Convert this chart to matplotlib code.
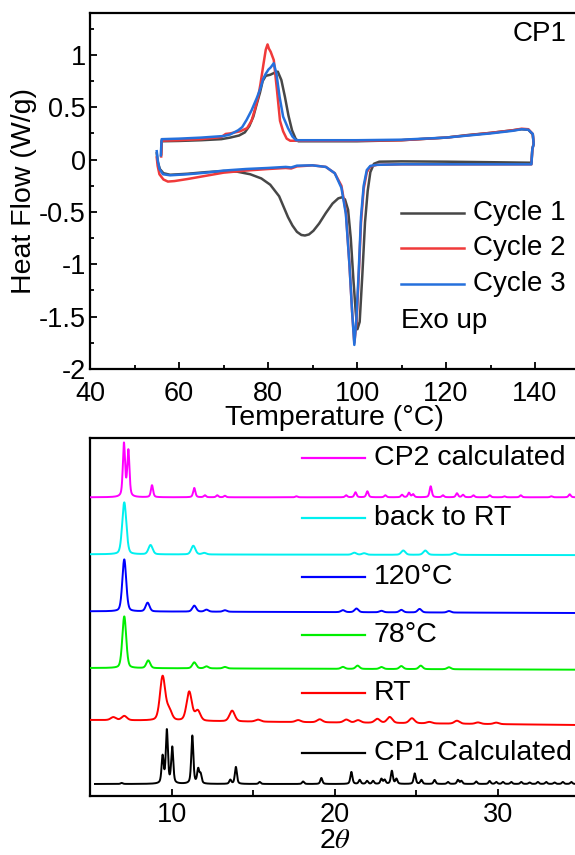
import numpy as np
import matplotlib
matplotlib.use('Agg')
import matplotlib.pyplot as plt
from matplotlib.ticker import MultipleLocator, FuncFormatter

plt.rcParams['font.family'] = ['Liberation Sans', 'DejaVu Sans']
plt.rcParams['mathtext.fontset'] = 'stix'
plt.rcParams['axes.unicode_minus'] = False

# ---------------- DSC data (T in °C, heat flow in W/g) ----------------
c1_heat_T = [55.0, 55.2, 55.7, 56.5, 58, 62, 66, 70, 73, 76, 78.5, 80.5, 82.5, 84.5, 85.5, 86.5,
             87.5, 88.3, 89.2, 90.2, 91.5, 93.0, 94.5, 95.8, 96.6, 97.3, 98.0, 98.6, 99.2, 99.7,
             100.1, 100.6, 101.2, 101.8, 102.4, 103.0, 103.8, 105, 110, 120, 130, 139.1]
c1_heat_H = [0.06, -0.02, -0.09, -0.13, -0.145, -0.135, -0.12, -0.11, -0.115, -0.14, -0.18, -0.24,
             -0.35, -0.55, -0.63, -0.69, -0.72, -0.725, -0.715, -0.68, -0.61, -0.51, -0.42, -0.37,
             -0.36, -0.38, -0.48, -0.75, -1.15, -1.45, -1.62, -1.55, -1.1, -0.6, -0.3, -0.12,
             -0.04, -0.02, -0.017, -0.02, -0.025, -0.03]
c1_cool_T = [139.2, 139.4, 139.7, 139.5, 138.5, 137, 135, 130, 125, 120, 110, 100, 90, 86.8, 86.2,
             85.4, 84.6, 83.8, 83.0, 82.2, 81.5, 80.5, 79.5, 78.8, 78.2, 77.4, 76.7, 75.8, 74.8,
             73.5, 71.5, 69.5, 65, 60, 56.1, 56.0]
c1_cool_H = [-0.03, 0.10, 0.15, 0.24, 0.285, 0.29, 0.28, 0.255, 0.235, 0.21, 0.185, 0.175, 0.175,
             0.175, 0.2, 0.28, 0.42, 0.60, 0.76, 0.84, 0.83, 0.81, 0.80, 0.75, 0.64, 0.52, 0.41,
             0.32, 0.26, 0.23, 0.21, 0.195, 0.185, 0.178, 0.175, 0.05]

c2_heat_T = [55.0, 55.2, 55.6, 56.5, 57.5, 59, 62, 66, 70, 75, 80, 84, 85.2, 86.5, 90, 93, 95,
             96.5, 97.5, 98.3, 98.9, 99.4, 99.9, 100.4, 100.9, 101.5, 102.2, 103, 104.5, 110,
             125, 139.1]
c2_heat_H = [0.02, -0.06, -0.14, -0.19, -0.21, -0.205, -0.185, -0.155, -0.125, -0.105, -0.09,
             -0.08, -0.085, -0.065, -0.055, -0.07, -0.13, -0.25, -0.5, -1.0, -1.45, -1.75, -1.55,
             -1.1, -0.6, -0.28, -0.12, -0.065, -0.05, -0.045, -0.045, -0.045]
c2_cool_T = [139.2, 139.4, 139.7, 139.5, 138.5, 137, 135, 130, 120, 110, 100, 90, 85, 84.2, 83.4,
             82.7, 82.0, 81.3, 80.6, 80.2, 79.9, 79.5, 78.9, 78.3, 77.8, 77.0, 76.3, 75.3, 73.7,
             71.5, 70.5, 69.5, 65, 60, 56.1, 56.0]
c2_cool_H = [-0.045, 0.10, 0.15, 0.245, 0.29, 0.295, 0.28, 0.255, 0.21, 0.185, 0.18, 0.18, 0.18,
             0.2, 0.27, 0.37, 0.67, 0.95, 1.03, 1.06, 1.10, 1.05, 0.89, 0.72, 0.60, 0.47, 0.37,
             0.30, 0.27, 0.25, 0.245, 0.215, 0.195, 0.185, 0.18, 0.03]

c3_heat_T = [55.0, 55.2, 55.6, 56.4, 58, 62, 66, 70, 75, 80, 84, 85.2, 86.5, 90, 93, 95, 96.5,
             97.5, 98.3, 98.9, 99.4, 99.9, 100.4, 100.9, 101.5, 102.2, 103, 104.5, 110, 125, 139.1]
c3_heat_H = [0.08, 0.0, -0.09, -0.14, -0.15, -0.14, -0.125, -0.105, -0.09, -0.08, -0.07, -0.075,
             -0.058, -0.055, -0.07, -0.13, -0.27, -0.52, -1.0, -1.45, -1.77, -1.5, -1.05, -0.55,
             -0.25, -0.1, -0.06, -0.05, -0.045, -0.045, -0.045]
c3_cool_T = [139.2, 139.4, 139.7, 139.5, 138.5, 137, 135, 130, 120, 110, 100, 90, 86.3, 85.5,
             84.5, 83.4, 82.6, 81.9, 81.3, 80.6, 80.1, 79.5, 78.9, 78.3, 77.5, 76.3, 75.2, 74.2,
             73.3, 71.5, 70, 65, 60, 56.1, 55.9]
c3_cool_H = [-0.045, 0.10, 0.15, 0.245, 0.285, 0.29, 0.275, 0.25, 0.21, 0.19, 0.185, 0.185, 0.185,
             0.22, 0.3, 0.41, 0.6, 0.82, 0.92, 0.88, 0.86, 0.82, 0.77, 0.68, 0.59, 0.47, 0.38,
             0.31, 0.28, 0.24, 0.225, 0.21, 0.2, 0.195, 0.04]

cycle_labels = ['Cycle 1', 'Cycle 2', 'Cycle 3']
cycle_colors = ['#474747', '#f03a3a', '#2570dc']

# ---------------- PXRD data (2theta positions, peak heights) ----------------
cp2_pos = [7.08, 7.35, 8.80, 11.39, 12.04, 12.8, 13.27, 17.65, 20.7, 21.27, 22.0, 23.1, 24.12,
           24.55, 24.8, 25.88, 26.63, 27.49, 27.86, 28.5, 29.5, 30.4, 31.4, 33.27, 34.4]
cp2_h = [53, 46, 12, 9.3, 2, 2, 1.5, 1, 2, 5, 6, 2, 2.5, 4.5, 3, 11, 2, 4, 2.5, 2, 2, 1, 2, 1, 3]

back_pos = [7.1, 8.71, 11.33, 12.0, 21.2, 21.8, 24.2, 25.55, 27.35]
back_h = [52, 9.3, 8.7, 1.5, 2, 1.5, 4.3, 4.3, 2]

t120_pos = [7.1, 8.53, 11.39, 12.14, 13.27, 20.5, 21.33, 22.86, 24.08, 25.2, 27.0]
t120_h = [52, 8.7, 6, 2, 1.5, 2, 3.7, 1.5, 2.5, 3.5, 1.5]

t78_pos = [7.1, 8.57, 11.39, 12.14, 13.27, 20.5, 21.4, 22.86, 24.08, 25.27, 27.0]
t78_h = [51.7, 7.7, 6, 2, 1.5, 2, 3.3, 2, 3, 3.5, 2]

rt_pos = [6.43, 7.1, 9.45, 9.85, 11.08, 11.6, 13.71, 15.3, 17.76, 19.08, 20.71, 21.43, 22.61,
          23.37, 24.73, 25.8, 27.49, 28.78, 29.9]
rt_h = [3, 4.3, 44, 10, 29, 10, 10.7, 2, 2, 3, 3, 2.5, 4, 6, 5, 1.5, 3, 1.5, 1.5]

cp1_pos = [6.94, 9.45, 9.71, 10.04, 11.27, 11.63, 11.78, 13.6, 13.94, 15.4, 18.06, 19.18, 21.02,
           21.53, 21.98, 22.35, 22.86, 23.06, 23.5, 23.78, 24.9, 25.31, 26.12, 26.94, 27.55,
           27.76, 28.67, 29.49, 29.9, 30.31, 30.82, 31.43, 31.94, 32.45, 32.96, 33.47, 33.98, 34.5]
cp1_h = [1, 27, 53, 36, 48, 14, 9, 4, 17, 2, 2.5, 6, 12, 4, 3, 3, 5, 4, 13, 5, 10.5, 4, 4, 2, 4,
         3, 2.5, 3, 2, 2, 2, 2, 1.5, 2, 2, 1.5, 2, 2]

pxrd_labels = ['CP2 calculated', 'back to RT', '120°C', '78°C', 'RT', 'CP1 Calculated']
pxrd_colors = ['#ff00ff', '#00f0f0', '#0000ff', '#00ee00', '#ff0000', '#000000']

# ---------------- Figure ----------------
W, H = 575, 855
fig = plt.figure(figsize=(W / 100, H / 100), dpi=100)

ax1 = fig.add_axes([90 / W, 1 - 369 / H, 489.5 / W, 356 / H])
heat_T = [c1_heat_T, c2_heat_T, c3_heat_T]
heat_H = [c1_heat_H, c2_heat_H, c3_heat_H]
cool_T = [c1_cool_T, c2_cool_T, c3_cool_T]
cool_H = [c1_cool_H, c2_cool_H, c3_cool_H]
for i in range(3):
    T = list(heat_T[i]) + list(cool_T[i])
    Hf = list(heat_H[i]) + list(cool_H[i])
    ax1.plot(T, Hf, color=cycle_colors[i], lw=1.8, zorder=2 + i, solid_joinstyle='round')

ax1.set_xlim(40, 150)
ax1.set_ylim(-2, 1.4)
ax1.xaxis.set_major_locator(MultipleLocator(20))
ax1.xaxis.set_minor_locator(MultipleLocator(10))
ax1.yaxis.set_major_locator(MultipleLocator(0.5))
ax1.yaxis.set_minor_locator(MultipleLocator(0.25))
ax1.yaxis.set_major_formatter(FuncFormatter(lambda v, p: '%g' % v))
ax1.tick_params(which='both', direction='in', top=False, right=False, width=1.3,
                labelsize=19.5)
ax1.tick_params(which='major', length=5)
ax1.tick_params(which='minor', length=3)
ax1.tick_params(axis='x', pad=8.5)
ax1.tick_params(axis='y', pad=3)
for s in ax1.spines.values():
    s.set_linewidth(1.6)
ax1.set_xlabel('Temperature (°C)', fontsize=20.5, labelpad=-1)
ax1.set_ylabel('Heat Flow (W/g)', fontsize=20.5, labelpad=1)

# legend-like labels in DSC panel
leg_y = [-0.506, -0.84, -1.184]
for i in range(3):
    ax1.plot([109.9, 124.0], [leg_y[i], leg_y[i]], color=cycle_colors[i], lw=1.8)
    ax1.text(126.1, leg_y[i], cycle_labels[i], fontsize=20, va='center', ha='left')
ax1.text(109.9, -1.54, 'Exo up', fontsize=20, va='center', ha='left')
ax1.text(147.0, 1.2, 'CP1', fontsize=20, va='center', ha='right')

# ---------------- PXRD panel ----------------
ax2 = fig.add_axes([90 / W, 1 - 796 / H, 489.5 / W, 358 / H])
x = np.linspace(5.0, 35.5, 6000)


def pattern(xx, pos, hts, fwhm, eta):
    y = np.zeros_like(xx)
    for p, h in zip(pos, hts):
        d = (xx - p) / fwhm
        g = np.exp(-4 * np.log(2) * d ** 2)
        l = 1.0 / (1 + 4 * d ** 2)
        y += h * (eta * l + (1 - eta) * g)
    return y


offsets = [298.7, 241.7, 184.7, 128, 76, 12]
drifts = [0.0, -0.8, -1.7, -1.7, -5.0, 0.0]
all_pos = [cp2_pos, back_pos, t120_pos, t78_pos, rt_pos, cp1_pos]
all_h = [cp2_h, back_h, t120_h, t78_h, rt_h, cp1_h]
fwhms = [0.16, 0.30, 0.28, 0.28, 0.38, 0.15]
etas = [0.5, 0.3, 0.3, 0.3, 0.3, 0.5]
for i in range(6):
    xx = x if i != 5 else x[x >= 5.3]
    y = pattern(xx, all_pos[i], all_h[i], fwhms[i], etas[i])
    y = y + offsets[i] + drifts[i] * (xx - 5) / 30.0
    ax2.plot(xx, y, color=pxrd_colors[i], lw=1.4, zorder=3)

ax2.set_xlim(5, 35)
ax2.set_ylim(0, 358)
ax2.xaxis.set_major_locator(MultipleLocator(10))
ax2.xaxis.set_minor_locator(MultipleLocator(5))
ax2.set_yticks([])
ax2.tick_params(which='both', direction='in', top=False, right=False, width=1.3,
                labelsize=19.5, pad=4)
ax2.tick_params(which='major', length=5)
ax2.tick_params(which='minor', length=4)
for s in ax2.spines.values():
    s.set_linewidth(1.6)
ax2.set_xlabel('2$\\theta$', fontsize=20.5, labelpad=0.5)

lab_y = [338, 278, 219, 161, 103, 43]
for i in range(6):
    ax2.plot([17.98, 21.84], [lab_y[i], lab_y[i]], color=pxrd_colors[i], lw=1.6)
    ax2.text(22.39, lab_y[i], pxrd_labels[i], fontsize=20.5, va='center', ha='left')

fig.savefig('out.png', dpi=100)
